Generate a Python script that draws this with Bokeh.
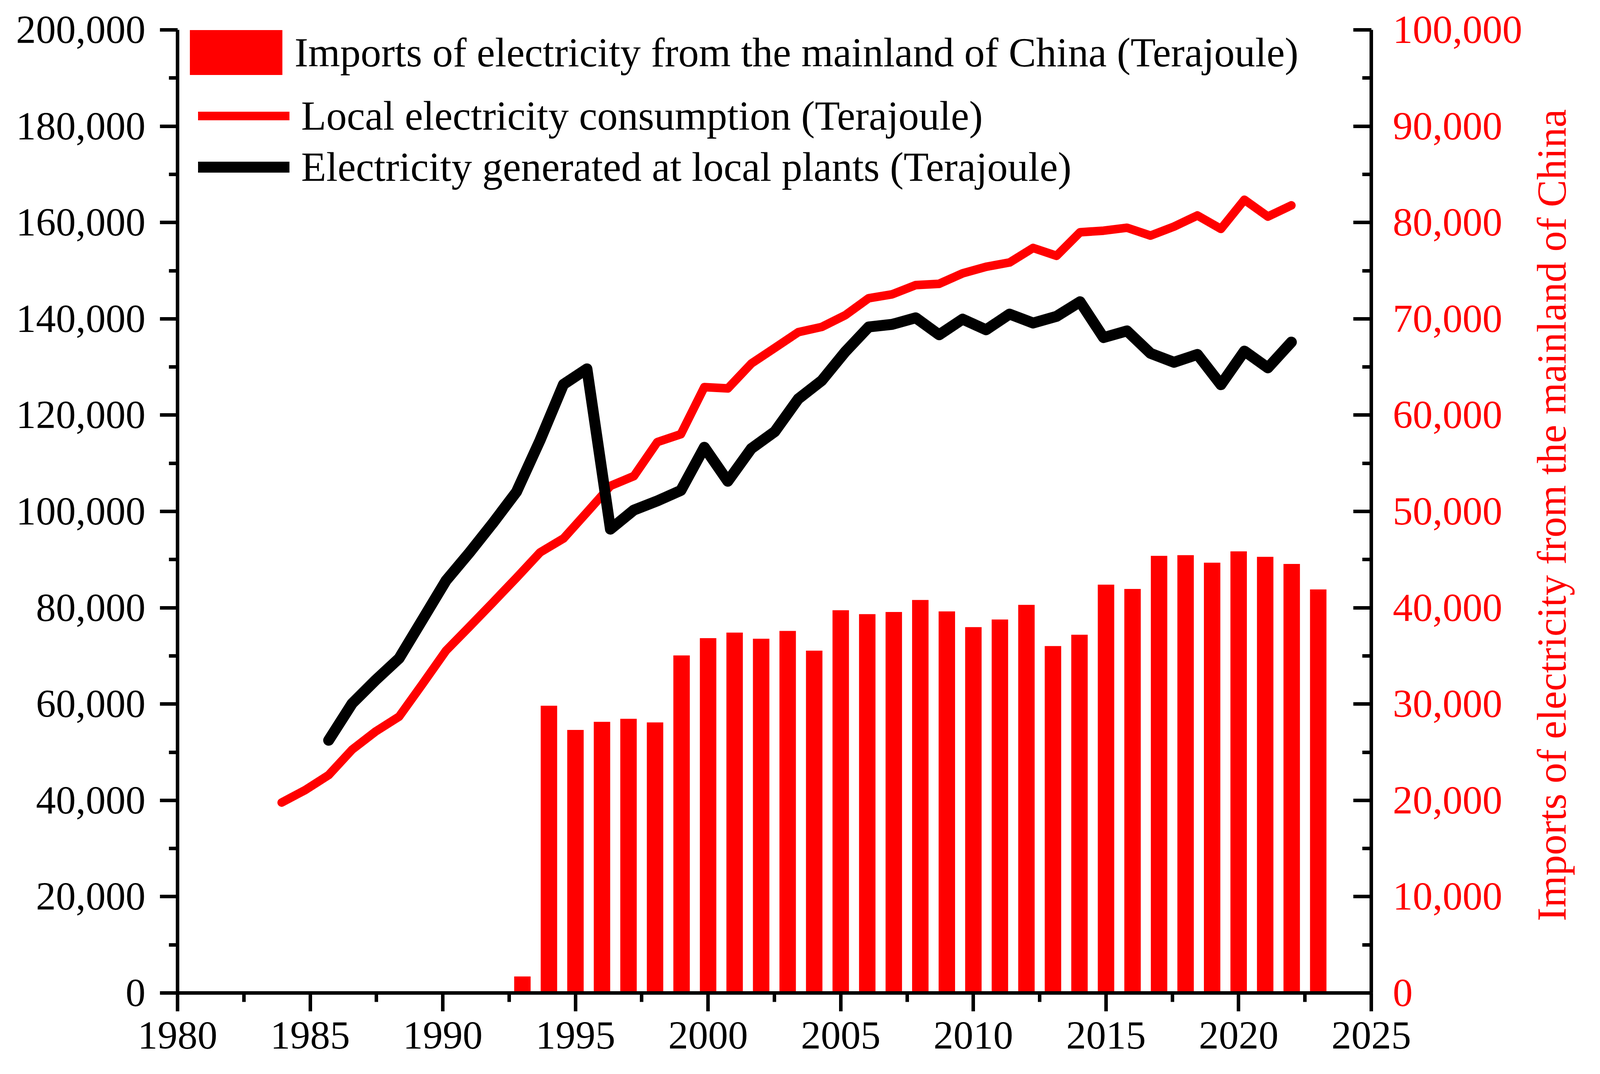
from bokeh.plotting import figure
from bokeh.models import (Range1d, LinearAxis, SingleIntervalTicker, NumeralTickFormatter,
                          Legend, LegendItem)
from bokeh.embed import file_html
from bokeh.resources import INLINE

FONT = "Liberation Serif"
RED = "#FF0000"
BLACK = "#000000"

# ---- data ----
line_years = list(range(1980, 2024))
consumption = [39550, 42140, 45250, 50540, 54300, 57390, 64180, 71100, 76080, 81120,
               86230, 91470, 94380, 99800, 105300, 107340, 114410, 116040, 125810, 125540,
               130700, 133960, 137220, 138310, 140750, 144280, 145090, 147000, 147270, 149440,
               150800, 151700, 154720, 153080, 157970, 158300, 158910, 157280, 159140, 161460,
               158670, 164720, 161230, 163560]
generation_years = list(range(1982, 2024))
generation = [52480, 60110, 64960, 69490, 77560, 85650, 91470, 97610, 104070, 114740,
              126380, 129610, 96310, 100290, 102190, 104360, 113320, 106270, 113050, 116580,
              123370, 127170, 133140, 138310, 138850, 140210, 136680, 139930, 137720, 140980,
              139120, 140510, 143540, 136100, 137490, 132830, 130970, 132600, 126310, 133300,
              129810, 135160]
import_years = list(range(1993, 2024))
imports = [1710, 29830, 27310, 28150, 28470, 28090, 35050, 36840, 37420, 36780,
           37590, 35540, 39740, 39330, 39560, 40810, 39620, 37990, 38780, 40300,
           36020, 37200, 42400, 41950, 45390, 45460, 44680, 45850, 45290, 44550, 41900]

label_bar = "Imports of electricity from the mainland of China (Terajoule)"
label_cons = "Local electricity consumption (Terajoule)"
label_gen = "Electricity generated at local plants (Terajoule)"
right_title = "Imports of electricity from the mainland of China"

p = figure(width=4092, height=2734,
           x_range=Range1d(1980, 2025), y_range=Range1d(0, 200000),
           output_backend="svg", toolbar_location=None,
           min_border_left=454, min_border_right=580, min_border_top=76, min_border_bottom=192)
p.extra_y_ranges = {"imp": Range1d(0, 100000)}
p.extra_x_ranges = {"series": Range1d(1975.564, 2026.404)}
p.grid.visible = False
p.outline_line_color = None
p.background_fill_color = "white"
p.border_fill_color = "white"


def style_axis(ax, color_labels):
    ax.axis_line_width = 9
    ax.axis_line_color = BLACK
    ax.major_tick_line_width = 9
    ax.minor_tick_line_width = 9
    ax.major_tick_line_color = BLACK
    ax.minor_tick_line_color = BLACK
    ax.major_label_text_font = FONT
    ax.major_label_text_font_size = "102px"
    ax.major_label_text_color = color_labels
    ax.axis_label_text_font = FONT
    ax.axis_label_text_font_style = "normal"


xax = p.below[0]
xax.ticker = SingleIntervalTicker(interval=5, num_minor_ticks=2)
xax.formatter = NumeralTickFormatter(format="0")
style_axis(xax, BLACK)
xax.major_tick_out = 47
xax.major_tick_in = 0
xax.minor_tick_out = 23
xax.minor_tick_in = 0
xax.major_label_standoff = 28

yax = p.left[0]
yax.ticker = SingleIntervalTicker(interval=20000, num_minor_ticks=2)
yax.formatter = NumeralTickFormatter(format="0,0")
style_axis(yax, BLACK)
yax.major_tick_out = 45
yax.major_tick_in = 0
yax.minor_tick_out = 22
yax.minor_tick_in = 0
yax.major_label_standoff = 37

# right axis; its title reads bottom-to-top and starts a little above the x axis
rax = LinearAxis(y_range_name="imp",
                 ticker=SingleIntervalTicker(interval=10000, num_minor_ticks=2),
                 formatter=NumeralTickFormatter(format="0,0"),
                 axis_label="\u00a0" * 7 + right_title)
style_axis(rax, RED)
rax.major_tick_out = 0
rax.major_tick_in = 46
rax.minor_tick_out = 0
rax.minor_tick_in = 23
rax.major_label_standoff = 55
rax.axis_label_text_color = RED
rax.axis_label_text_font_size = "105px"
rax.axis_label_standoff = 72
rax.axis_label_orientation = 1.5707963267948966
rax.axis_label_align = "start"
p.add_layout(rax, "right")

bars = p.vbar(x=import_years, top=imports, bottom=0, width=0.62, y_range_name="imp",
              fill_color=RED, line_color=None)
r_cons = p.line(line_years, consumption, x_range_name="series", line_color=RED,
                line_width=22, line_join="round", line_cap="round")
r_gen = p.line(generation_years, generation, x_range_name="series", line_color=BLACK,
               line_width=28, line_join="round", line_cap="round")

legA = Legend(items=[LegendItem(label=label_bar, renderers=[bars])],
              location=(2, 2336), glyph_width=296, glyph_height=144, label_standoff=2,
              padding=0, margin=0, spacing=0, border_line_color=None, background_fill_alpha=0,
              label_text_font=FONT, label_text_font_size="105px", label_text_color=BLACK)
legB = Legend(items=[LegendItem(label=label_cons, renderers=[r_cons]),
                     LegendItem(label=label_gen, renderers=[r_gen])],
              location=(53, 2052), glyph_width=234, glyph_height=125, label_standoff=30,
              padding=0, margin=0, spacing=6, border_line_color=None, background_fill_alpha=0,
              label_text_font=FONT, label_text_font_size="105px", label_text_color=BLACK)
p.add_layout(legA)
p.add_layout(legB)

open("out.html", "w").write(file_html(p, INLINE))
